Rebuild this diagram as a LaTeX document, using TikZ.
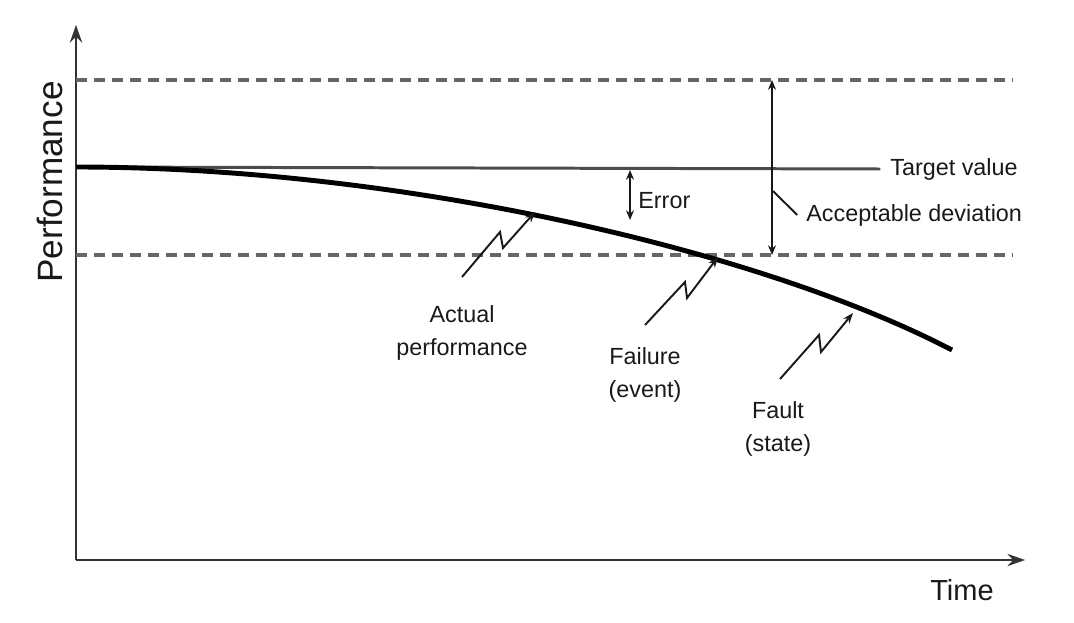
\documentclass[tikz,border=0pt]{standalone}
\usepackage{fontspec}
\setmainfont{Liberation Sans}
\usetikzlibrary{arrows.meta}

\tikzset{
  lbl/.style={font=\fontsize{13.3}{18.8}\selectfont, text=black!90, align=center, inner sep=0pt},
  limit/.style={black!60, line width=2.3pt, dash pattern=on 0.22cm off 0.14cm},
  axis/.style={-{Stealth[length=10pt,width=7pt]}, black!80, line width=1.2pt},
  small/.style={{Stealth[length=5.5pt,width=4.5pt]}-{Stealth[length=5.5pt,width=4.5pt]}, black!90, line width=1.1pt},
  zig/.style={-{Stealth[length=6pt,width=4.5pt]}, black!90, line width=1.1pt}
}

\begin{document}
\begin{tikzpicture}[x=0.02cm, y=-0.02cm]
      \useasboundingbox (0,0) rectangle (1074,622);

      \coordinate (O) at (76,560);
      \coordinate (Ytop) at (76,25);
      \coordinate (Xend) at (1025,560);
      \draw[axis] (O) -- (Ytop);
      \draw[axis] (O) -- (Xend);

      \node[lbl, font=\fontsize{20}{24}\selectfont, rotate=90] (Perf) at (50,182) {Performance};
      \node[lbl, font=\fontsize{16.5}{20}\selectfont] (Time) at (962,590) {Time};

      \coordinate (Up0) at (76,80);
      \coordinate (Up1) at (1013,80);
      \coordinate (Lo0) at (76,255);
      \coordinate (Lo1) at (1013,255);
      \draw[limit] (Up0) -- (Up1);
      \draw[limit] (Lo0) -- (Lo1);

      \node[lbl, anchor=west] (Target) at (890,169) {Target value};
      \coordinate (T0) at (76,167);
      \draw[black!70, line width=1.7pt] (T0) -- ([xshift=-5.5pt]Target.west);

      \draw[black, line width=2.8pt] (T0) .. controls (400,167) and (760,250) .. (952,350);

      \coordinate (E0) at (630,170);
      \coordinate (E1) at (630,220);
      \draw[small] (E0) -- (E1);
      \node[lbl, anchor=west] (Err) at (638,201) {Error};

      \coordinate (D0) at (772,80);
      \coordinate (D1) at (772,255);
      \draw[small] (D0) -- (D1);
      \node[lbl, anchor=west] (Dev) at (806,215) {Acceptable deviation};
      \coordinate (Dp) at (773,191);
      \draw[black!90, line width=1.1pt] (Dp) -- ([xshift=-5pt]Dev.west);

      \node[lbl] (Act) at (462,333) {Actual\\performance};
      \node[lbl] (Fail) at (645,375) {Failure\\(event)};
      \node[lbl] (Fault) at (778,429) {Fault\\(state)};

      \coordinate (A0) at (462,277);
      \coordinate (A1) at (535,212);
      \draw[zig] (A0) -- (500,232) -- (503,248) -- (A1);

      \coordinate (F0) at (645,325);
      \coordinate (F1) at (718,257);
      \draw[zig] (F0) -- (685,282) -- (687,298) -- (F1);

      \coordinate (S0) at (780,379);
      \coordinate (S1) at (853,313);
      \draw[zig] (S0) -- (819,335) -- (821,352) -- (S1);
    \end{tikzpicture}
\end{document}
